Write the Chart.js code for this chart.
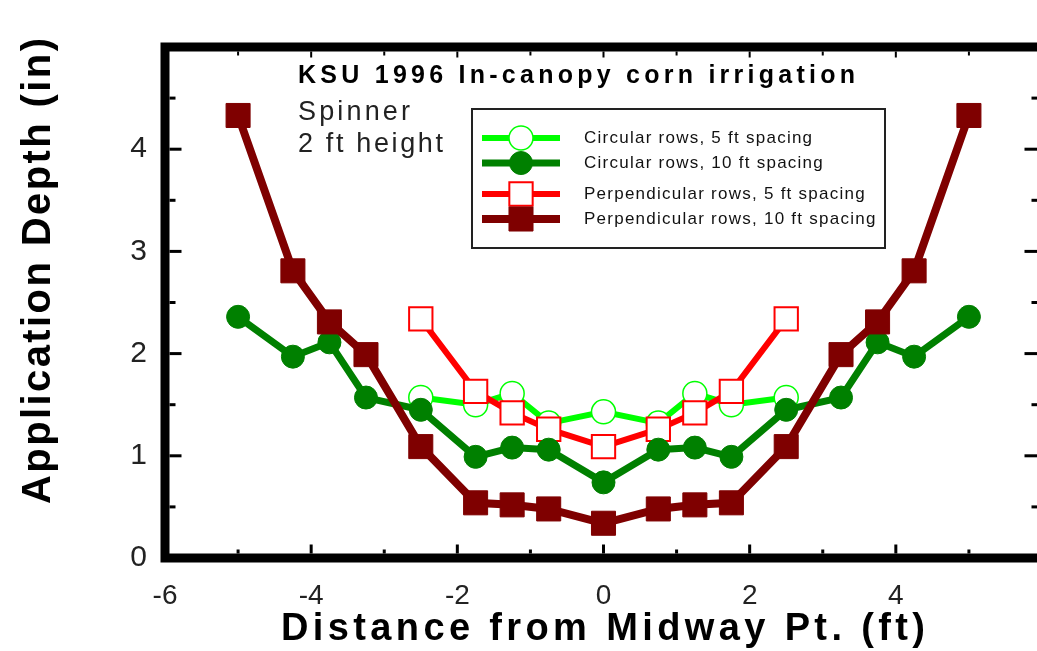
<!DOCTYPE html>
<html>
<head>
<meta charset="utf-8">
<script src="https://cdn.jsdelivr.net/npm/chart.js@4.4.0/dist/chart.umd.min.js"></script>
<style>
  html, body { margin: 0; padding: 0; background: #fff; overflow: hidden; width: 1037px; }
  #wrap { position: relative; width: 1037px; height: 651px; overflow: hidden; }
</style>
</head>
<body>
<div id="wrap"><canvas id="chart" width="1050" height="651"></canvas></div>
<script>
// distances from the midway point (ft)
const xFull = [-5, -4.25, -3.75, -3.25, -2.5, -1.75, -1.25, -0.75, 0, 0.75, 1.25, 1.75, 2.5, 3.25, 3.75, 4.25, 5];
const xInner = [-2.5, -1.75, -1.25, -0.75, 0, 0.75, 1.25, 1.75, 2.5];

// application depth (in)
const circ5 = [1.57, 1.50, 1.61, 1.32, 1.43, 1.32, 1.61, 1.50, 1.57];
const circ10 = [2.36, 1.97, 2.11, 1.57, 1.45, 0.99, 1.08, 1.06, 0.74, 1.06, 1.08, 0.99, 1.45, 1.57, 2.11, 1.97, 2.36];
const perp5 = [2.34, 1.63, 1.42, 1.26, 1.09, 1.26, 1.42, 1.63, 2.34];
const perp10 = [4.33, 2.81, 2.31, 1.99, 1.09, 0.54, 0.52, 0.48, 0.34, 0.48, 0.52, 0.54, 1.09, 1.99, 2.31, 2.81, 4.33];

const seriesNames = ["Circular rows, 5 ft spacing", "Circular rows, 10 ft spacing",
                     "Perpendicular rows, 5 ft spacing", "Perpendicular rows, 10 ft spacing"];
const xTicks = [-6, -4, -2, 0, 2, 4];
const yTicks = [0, 1, 2, 3, 4];

const chartTitle = "KSU 1996 In-canopy corn irrigation";
const noteLines = ["Spinner", "2 ft height"];
const xTitle = "Distance from Midway Pt. (ft)";
const yTitle = "Application Depth (in)";

const pts = (xs, ys) => xs.map((x, i) => ({ x: x, y: ys[i] }));

// draws text with its letters spread to fill a given width
function fitText(ctx, text, x, y, width) {
  ctx.letterSpacing = "0px";
  const w = ctx.measureText(text).width;
  ctx.letterSpacing = ((width - w) / (text.length - 1)) + "px";
  ctx.fillText(text, x, y);
  ctx.letterSpacing = "0px";
}

const framePlugin = {
  id: "frame",
  afterDatasetsDraw(chart) {
    const ctx = chart.ctx;
    const a = chart.chartArea;
    const xs = chart.scales.x, ys = chart.scales.y;
    ctx.save();

    // heavy box (its right side falls just past the page edge)
    ctx.strokeStyle = "#000";
    ctx.lineWidth = 9;
    ctx.strokeRect(a.left, a.top, a.right - a.left, a.bottom - a.top);

    // inward tick marks
    const inL = a.left + 4.5, inR = a.right - 4.5, inT = a.top + 4.5, inB = a.bottom - 4.5;
    ctx.fillStyle = "#000";
    for (let v = xs.min + 1; v < xs.max; v += 1) {
      const px = xs.getPixelForValue(v);
      const major = v % 2 === 0;
      ctx.fillRect(px - 1.5, inB - (major ? 9 : 4), 3, major ? 9 : 4);
      ctx.fillRect(px - 1, inT, 2, major ? 6 : 4);
    }
    for (let v = ys.min + 0.5; v < ys.max; v += 0.5) {
      const py = ys.getPixelForValue(v);
      const major = v % 1 === 0;
      ctx.fillRect(inL, py - 1.5, major ? 12 : 6, 3);
      ctx.fillRect(inR - (major ? 13 : 6), py - 1.5, major ? 13 : 6, 3);
    }

    // inset labels
    ctx.fillStyle = "#000";
    ctx.textAlign = "left";
    ctx.textBaseline = "alphabetic";
    ctx.font = "bold 25px 'Liberation Sans', Arial, sans-serif";
    fitText(ctx, chartTitle, 298, 83, 557);
    ctx.font = "27px 'Liberation Sans', Arial, sans-serif";
    ctx.fillStyle = "#222";
    fitText(ctx, noteLines[0], 298, 120, 112);
    fitText(ctx, noteLines[1], 298, 152, 145);

    // legend
    ctx.strokeStyle = "#222";
    ctx.lineWidth = 2;
    ctx.strokeRect(472, 109, 413, 139);
    const rows = [138, 163, 194, 219];
    chart.data.datasets.forEach((ds, i) => {
      const y = rows[i];
      ctx.strokeStyle = ds.borderColor;
      ctx.lineWidth = ds.borderWidth;
      ctx.beginPath();
      ctx.moveTo(482, y);
      ctx.lineTo(560, y);
      ctx.stroke();
      ctx.fillStyle = ds.pointBackgroundColor;
      ctx.strokeStyle = ds.pointBorderColor;
      ctx.lineWidth = ds.pointBorderWidth;
      Chart.helpers.drawPoint(ctx, {
        pointStyle: ds.pointStyle, radius: ds.pointRadius,
        borderWidth: ds.pointBorderWidth, rotation: 0
      }, 521, y);
      ctx.fillStyle = "#111";
      ctx.textBaseline = "middle";
      ctx.font = "17px 'Liberation Sans', Arial, sans-serif";
      ctx.letterSpacing = "1.25px";
      ctx.fillText(ds.label, 584, y);
      ctx.letterSpacing = "0px";
    });

    // axis titles
    ctx.fillStyle = "#000";
    ctx.textBaseline = "alphabetic";
    ctx.font = "bold 38px 'Liberation Sans', Arial, sans-serif";
    fitText(ctx, xTitle, 281, 640, 644);
    ctx.font = "bold 40px 'Liberation Sans', Arial, sans-serif";
    ctx.translate(50, 504);
    ctx.rotate(-Math.PI / 2);
    fitText(ctx, yTitle, 0, 0, 466);
    ctx.restore();
  }
};

new Chart(document.getElementById("chart"), {
  type: "line",
  data: {
    datasets: [
      {
        label: seriesNames[0], data: pts(xInner, circ5), order: 4,
        borderColor: "#00ff00", borderWidth: 6,
        pointStyle: "circle", pointRadius: 12,
        pointBackgroundColor: "#ffffff", pointBorderColor: "#00ff00", pointBorderWidth: 1.5
      },
      {
        label: seriesNames[1], data: pts(xFull, circ10), order: 2,
        borderColor: "#008000", borderWidth: 7,
        pointStyle: "circle", pointRadius: 11.5,
        pointBackgroundColor: "#008000", pointBorderColor: "#008000", pointBorderWidth: 1
      },
      {
        label: seriesNames[2], data: pts(xInner, perp5), order: 3,
        borderColor: "#ff0000", borderWidth: 6,
        pointStyle: "rect", pointRadius: 16.5,
        pointBackgroundColor: "#ffffff", pointBorderColor: "#ff0000", pointBorderWidth: 2
      },
      {
        label: seriesNames[3], data: pts(xFull, perp10), order: 1,
        borderColor: "#7f0000", borderWidth: 8,
        pointStyle: "rect", pointRadius: 17,
        pointBackgroundColor: "#7f0000", pointBorderColor: "#7f0000", pointBorderWidth: 1
      }
    ]
  },
  options: {
    responsive: false,
    animation: false,
    layout: { autoPadding: false, padding: { left: 0, right: 8, top: 47, bottom: 0 } },
    plugins: { legend: { display: false }, tooltip: { enabled: false } },
    elements: { line: { tension: 0 } },
    scales: {
      x: {
        type: "linear", min: -6, max: 6,
        grid: { display: false, drawTicks: false },
        border: { display: false },
        afterBuildTicks: s => { s.ticks = xTicks.map(v => ({ value: v })); },
        ticks: {
          color: "#222", padding: 21, maxRotation: 0, autoSkip: false,
          font: { family: "'Liberation Sans', Arial, sans-serif", size: 28 }
        },
        afterFit: s => { s.height = 93; s.paddingLeft = 0; s.paddingRight = 0; }
      },
      y: {
        type: "linear", min: 0, max: 5,
        grid: { display: false, drawTicks: false },
        border: { display: false },
        afterBuildTicks: s => { s.ticks = yTicks.map(v => ({ value: v })); },
        ticks: {
          color: "#222", padding: 18, autoSkip: false,
          font: { family: "'Liberation Sans', Arial, sans-serif", size: 30 }
        },
        afterFit: s => { s.width = 165; s.paddingTop = 0; s.paddingBottom = 0; }
      }
    }
  },
  plugins: [framePlugin]
});
</script>
</body>
</html>
